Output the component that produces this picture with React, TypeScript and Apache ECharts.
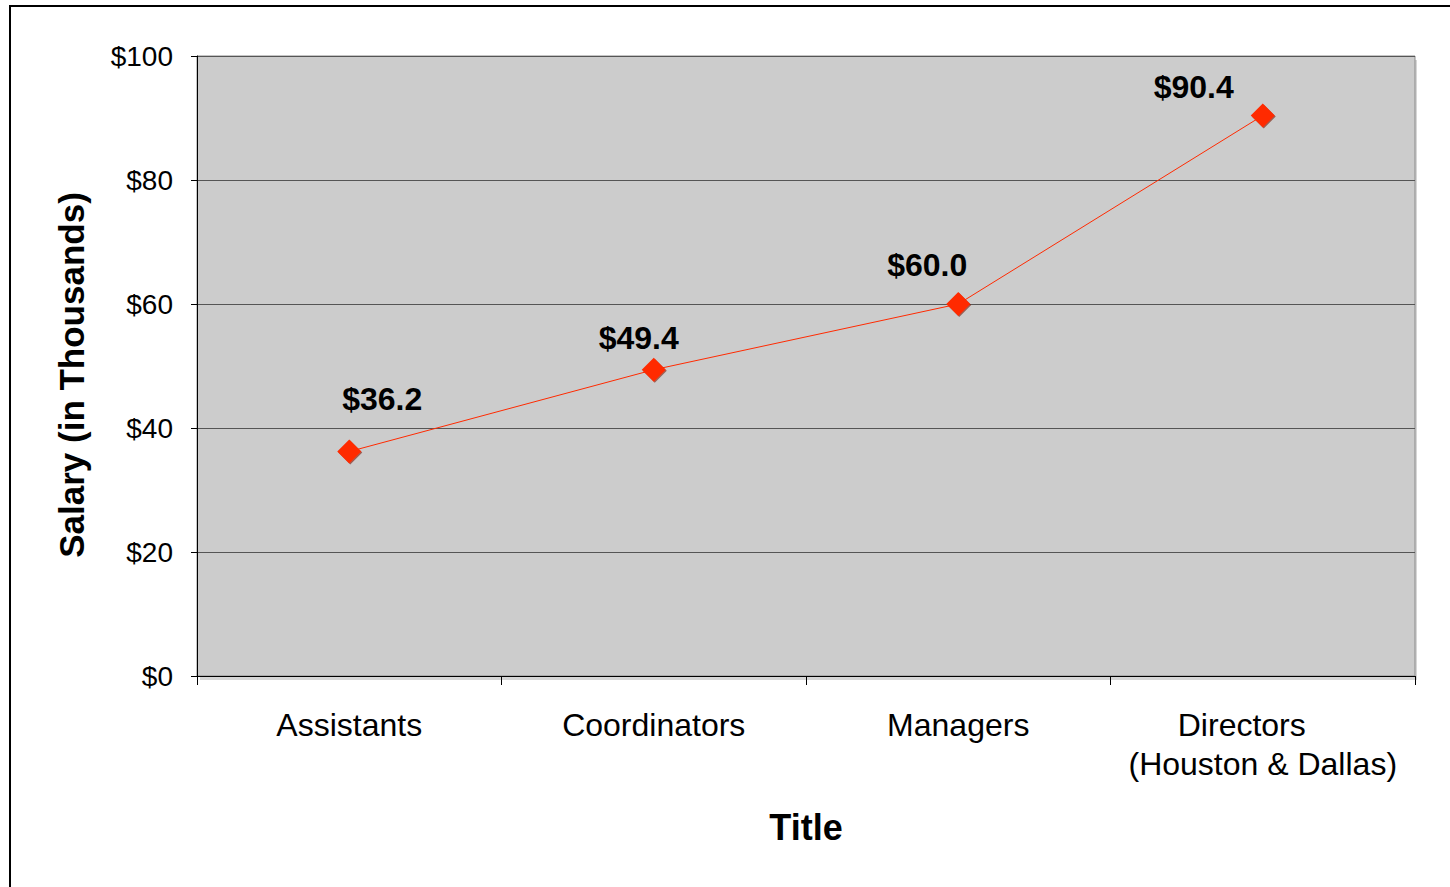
import React, { useEffect, useRef } from "react";
import * as echarts from "echarts";

const categories = ["Assistants", "Coordinators", "Managers", "Directors\n(Houston & Dallas)"];
const salaries = [36.2, 49.4, 60.0, 90.4];
const labelOffsets: [number, number][] = [
  [33, -6],
  [-15, 15],
  [-31, 8],
  [-69, 18],
];

export default function App() {
  const ref = useRef<HTMLDivElement>(null);
  useEffect(() => {
    if (!ref.current) return;
    const chart = echarts.init(ref.current, null, { renderer: "svg" });
    const font = "'Liberation Sans', Arial, sans-serif";
    chart.setOption({
      animation: false,
      textStyle: { fontFamily: font },
      graphic: [
        {
          type: "rect",
          shape: { x: 10, y: 6, width: 1500, height: 950 },
          style: { fill: "none", stroke: "#000", lineWidth: 2 },
          z: 100,
        },
        {
          type: "rect",
          shape: { x: 1414, y: 60, width: 3, height: 619 },
          style: { fill: "#d6d6d6" },
          z: -1,
        },
        {
          type: "rect",
          shape: { x: 200, y: 677, width: 1217, height: 3 },
          style: { fill: "#d6d6d6" },
          z: -1,
        },
      ],
      grid: {
        left: 197,
        right: 35,
        top: 56,
        bottom: 211,
        show: true,
        backgroundColor: "#cccccc",
        borderColor: "#8a8a8a",
        borderWidth: 1,
      },
      xAxis: {
        type: "category",
        data: categories,
        boundaryGap: true,
        name: "Title",
        nameLocation: "middle",
        nameGap: 133,
        nameTextStyle: { fontSize: 36, fontWeight: "bold", color: "#000", fontFamily: font },
        axisLine: { lineStyle: { color: "#000", width: 1 } },
        axisTick: { show: true, interval: 0, length: 9, lineStyle: { color: "#000" } },
        axisLabel: {
          interval: 0,
          hideOverlap: false,
          fontSize: 32,
          color: "#000",
          margin: 29,
          lineHeight: 39,
          fontFamily: font,
          formatter: (v: string) => {
            const lines = v.split("\n");
            if (lines.length > 1) {
              return "{first|" + lines[0] + "}\n" + lines.slice(1).join("\n");
            }
            return v;
          },
          rich: {
            first: {
              fontSize: 32,
              lineHeight: 39,
              color: "#000",
              fontFamily: font,
              padding: [0, 42, 0, 0],
            },
          },
        },
      },
      yAxis: {
        type: "value",
        min: 0,
        max: 100,
        interval: 20,
        name: "Salary (in Thousands)",
        nameLocation: "middle",
        nameGap: 108,
        nameTextStyle: {
          fontSize: 35,
          fontWeight: "bold",
          color: "#000",
          fontFamily: font,
          padding: [0, 18, 0, 0],
        },
        axisLine: { show: true, lineStyle: { color: "#000", width: 1 } },
        axisTick: { show: true, length: 6, lineStyle: { color: "#000" } },
        axisLabel: {
          fontSize: 28,
          color: "#000",
          margin: 24,
          fontFamily: font,
          formatter: (v: number) => "$" + v,
        },
        splitLine: { show: true, lineStyle: { color: "#555", width: 1 } },
      },
      series: [
        {
          type: "line",
          data: salaries.map((v, i) => ({
            value: v,
            label: { offset: labelOffsets[i] },
          })),
          symbol: "diamond",
          symbolSize: 24,
          itemStyle: {
            color: "#ff2a00",
            shadowColor: "rgba(120,20,0,0.6)",
            shadowOffsetX: 1,
            shadowOffsetY: 1,
            shadowBlur: 1,
          },
          lineStyle: { color: "#ff2a00", width: 1 },
          label: {
            show: true,
            position: "top",
            distance: 19,
            fontSize: 32,
            fontWeight: "bold",
            color: "#000",
            fontFamily: font,
            formatter: (p: any) => "$" + Number(p.value).toFixed(1),
          },
        },
      ],
    });
    return () => chart.dispose();
  }, []);
  return (
    <div
      ref={ref}
      style={{ position: "fixed", left: 0, top: 0, width: 1450, height: 887, background: "#fff" }}
    />
  );
}
